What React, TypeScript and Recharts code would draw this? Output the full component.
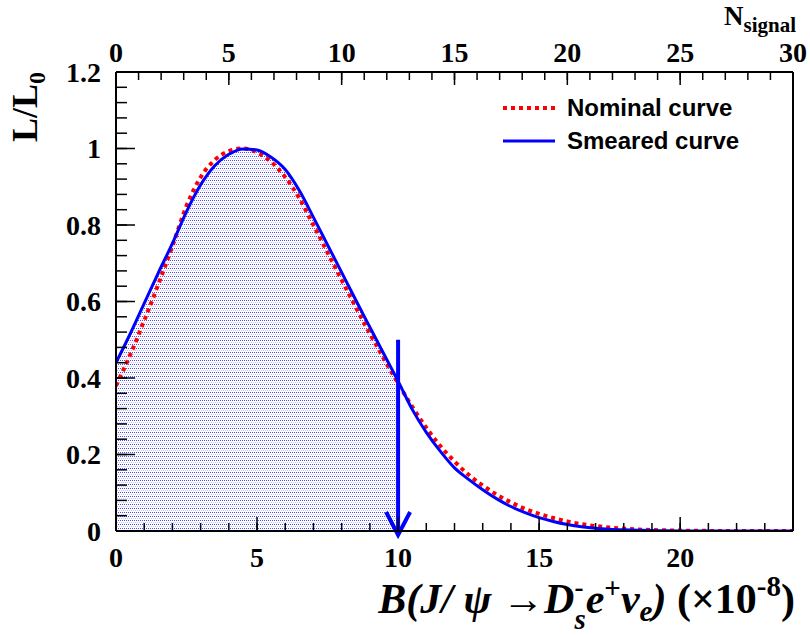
import {
  ComposedChart,
  Line,
  Area,
  XAxis,
  YAxis,
  ReferenceLine,
  Legend,
} from 'recharts';

// branching fraction grid, in units of 1e-8
const bGrid = [
  0, 0.5, 1, 1.5, 2, 2.5, 3, 3.5, 4, 4.5, 5, 5.5, 6, 6.5, 7, 7.5, 8, 8.5, 9, 9.5,
  10, 10.5, 11, 11.5, 12, 12.5, 13, 13.5, 14, 14.5, 15, 15.5, 16, 16.5, 17, 17.5,
  18, 18.5, 19, 19.5, 20, 20.5, 21, 21.5, 22, 22.5, 23, 23.5, 24,
];

const nominalCurve = [
  0.38, 0.46, 0.55, 0.645, 0.745, 0.85, 0.925, 0.97, 0.993, 1.0, 0.99, 0.965,
  0.925, 0.87, 0.8, 0.728, 0.656, 0.585, 0.516, 0.45, 0.386, 0.325, 0.27, 0.222,
  0.182, 0.147, 0.119, 0.095, 0.075, 0.058, 0.045, 0.034, 0.025, 0.018, 0.013,
  0.009, 0.006, 0.004, 0.0027, 0.0017, 0.001, 0.0006, 0.0003, 0.0001, 0, 0, 0, 0, 0,
];

const smearedCurve = [
  0.44, 0.515, 0.595, 0.675, 0.752, 0.835, 0.905, 0.955, 0.985, 0.999, 0.996,
  0.977, 0.945, 0.89, 0.82, 0.748, 0.676, 0.604, 0.533, 0.462, 0.392, 0.318,
  0.258, 0.208, 0.165, 0.135, 0.108, 0.084, 0.064, 0.048, 0.035, 0.025, 0.017,
  0.011, 0.007, 0.0045, 0.003, 0.002, 0.001, 0.0006, 0.0003, 0.0002, 0.0001, 0,
  0, 0, 0, 0, 0,
];

// top axis: signal yield corresponding to the branching fraction
const signalPerB = 30 / 24;

const upperLimit = 10;
const arrowTop = 0.5;

const bMajorTicks = [0, 5, 10, 15, 20];
const bMinorTicks = [
  0, 1, 2, 3, 4, 5, 6, 7, 8, 9, 10, 11, 12, 13, 14, 15, 16, 17, 18, 19, 20, 21, 22, 23, 24,
];
const nMajorTicks = [0, 5, 10, 15, 20, 25, 30];
const nMinorTicks = [
  0, 1, 2, 3, 4, 5, 6, 7, 8, 9, 10, 11, 12, 13, 14, 15, 16, 17, 18, 19, 20, 21, 22,
  23, 24, 25, 26, 27, 28, 29, 30,
];
const yMajorTicks = [0, 0.2, 0.4, 0.6, 0.8, 1, 1.2];
const yMinorTicks = [
  0, 0.04, 0.08, 0.12, 0.16, 0.2, 0.24, 0.28, 0.32, 0.36, 0.4, 0.44, 0.48, 0.52,
  0.56, 0.6, 0.64, 0.68, 0.72, 0.76, 0.8, 0.84, 0.88, 0.92, 0.96, 1, 1.04, 1.08,
  1.12, 1.16, 1.2,
];

const data = bGrid.map((b, i) => ({
  b,
  n: b * signalPerB,
  nominal: nominalCurve[i],
  smeared: smearedCurve[i],
  band: b <= upperLimit ? smearedCurve[i] : null,
}));

const serif = '"Liberation Serif", "Times New Roman", serif';
const sans = '"Liberation Sans", Arial, sans-serif';
const tickFont = { fontFamily: serif, fontWeight: 700, fontSize: 28, fill: '#000' };
const frame = { stroke: '#000', strokeWidth: 2 };
const tickStroke = { stroke: '#000', strokeWidth: 1.5 };
const noLabel = () => <g />;

const Arrow = (p: any) => {
  const { x1, y1, x2, y2 } = p;
  const tip = y2 + 4;
  return (
    <g>
      <line x1={x1} y1={y1} x2={x2} y2={tip} stroke="#0000ff" strokeWidth={4} />
      <polyline
        points={`${x2 - 12},${tip - 23} ${x2},${tip} ${x2 + 12},${tip - 23}`}
        fill="none"
        stroke="#0000ff"
        strokeWidth={4}
      />
    </g>
  );
};

const renderLegend = (props: any) => {
  const items = (props.payload || []).filter(
    (it: any) => it.type !== 'none' && it.dataKey !== 'band'
  );
  return (
    <svg width={300} height={80}>
      {items.map((it: any, i: number) => {
        const dashed = it.payload?.strokeDasharray;
        const cy = 14 + i * 33;
        return (
          <g key={it.value}>
            <line
              x1={3}
              x2={55}
              y1={cy}
              y2={cy}
              stroke={it.color}
              strokeWidth={dashed ? 4 : 3}
              strokeDasharray={dashed}
            />
            <text
              x={67}
              y={cy + 8}
              fontFamily={sans}
              fontWeight={700}
              fontSize={24}
              fill="#000"
            >
              {it.value}
            </text>
          </g>
        );
      })}
    </svg>
  );
};

export default function App() {
  return (
    <div style={{ position: 'absolute', left: 0, top: 0, width: 810, height: 635, background: '#fff' }}>
      <ComposedChart
        width={810}
        height={635}
        data={data}
        margin={{ top: 42, right: 16, bottom: 0, left: 0 }}
      >
        <defs>
          <pattern id="dots" width={4} height={4} patternUnits="userSpaceOnUse">
            <rect x={0} y={0} width={1} height={1} fill="#2a2aff" opacity={0.85} />
            <rect x={2} y={0} width={1} height={1} fill="#2a2aff" opacity={0.85} />
            <rect x={1} y={2} width={1} height={1} fill="#8a8aff" opacity={0.5} />
            <rect x={3} y={2} width={1} height={1} fill="#8a8aff" opacity={0.5} />
          </pattern>
        </defs>

        {/* labelled axes */}
        <XAxis
          xAxisId="b"
          dataKey="b"
          type="number"
          domain={[0, 24]}
          allowDataOverflow
          ticks={bMajorTicks}
          interval={0}
          height={104}
          tickLine={false}
          tickSize={0}
          tickMargin={16}
          axisLine={frame}
          tick={tickFont}
        />
        <XAxis
          xAxisId="n"
          dataKey="n"
          orientation="top"
          type="number"
          domain={[0, 30]}
          allowDataOverflow
          ticks={nMajorTicks}
          interval={0}
          height={30}
          tickLine={false}
          tickSize={0}
          tickMargin={10}
          axisLine={frame}
          tick={tickFont}
        />
        <YAxis
          yAxisId="y"
          type="number"
          domain={[0, 1.2]}
          allowDataOverflow
          ticks={yMajorTicks}
          interval={0}
          width={116}
          tickLine={false}
          tickSize={0}
          tickMargin={15}
          axisLine={frame}
          tick={tickFont}
        />
        <YAxis
          yAxisId="r"
          dataKey="smeared"
          orientation="right"
          type="number"
          domain={[0, 1.2]}
          allowDataOverflow
          ticks={yMajorTicks}
          width={1}
          tick={noLabel}
          tickLine={false}
          axisLine={frame}
        />

        {/* inward tick marks */}
        <XAxis xAxisId="bMaj" dataKey="b" type="number" domain={[0, 24]} allowDataOverflow ticks={bMajorTicks}
          interval={0} mirror height={1} tick={noLabel} tickSize={14} tickLine={tickStroke} axisLine={false} />
        <XAxis xAxisId="bMin" dataKey="b" type="number" domain={[0, 24]} allowDataOverflow ticks={bMinorTicks}
          interval={0} mirror height={1} tick={noLabel} tickSize={7} tickLine={tickStroke} axisLine={false} />
        <XAxis xAxisId="nMaj" dataKey="n" orientation="top" type="number" domain={[0, 30]} allowDataOverflow
          ticks={nMajorTicks} interval={0} mirror height={1} tick={noLabel} tickSize={13} tickLine={tickStroke}
          axisLine={false} />
        <XAxis xAxisId="nMin" dataKey="n" orientation="top" type="number" domain={[0, 30]} allowDataOverflow
          ticks={nMinorTicks} interval={0} mirror height={1} tick={noLabel} tickSize={7} tickLine={tickStroke}
          axisLine={false} />
        <YAxis yAxisId="yMaj" dataKey="smeared" type="number" domain={[0, 1.2]} allowDataOverflow ticks={yMajorTicks}
          interval={0} mirror width={1} tick={noLabel} tickSize={19} tickLine={tickStroke} axisLine={false} />
        <YAxis yAxisId="yMin" dataKey="smeared" type="number" domain={[0, 1.2]} allowDataOverflow ticks={yMinorTicks}
          interval={0} mirror width={1} tick={noLabel} tickSize={10} tickLine={tickStroke} axisLine={false} />

        <Area
          xAxisId="b"
          yAxisId="y"
          dataKey="band"
          type="monotone"
          stroke="none"
          fill="url(#dots)"
          fillOpacity={1}
          baseValue={0}
          legendType="none"
          isAnimationActive={false}
        />
        <ReferenceLine xAxisId="b" yAxisId="y" y={0} stroke="#ff0000" strokeWidth={2} />
        <ReferenceLine xAxisId="b" yAxisId="y" x={24} stroke="#ff0000" strokeWidth={2} />
        <Line
          xAxisId="b"
          yAxisId="y"
          dataKey="nominal"
          name="Nominal curve"
          type="monotone"
          stroke="#ff0000"
          strokeWidth={4}
          strokeDasharray="4 4"
          dot={false}
          isAnimationActive={false}
        />
        <Line
          xAxisId="b"
          yAxisId="y"
          dataKey="smeared"
          name="Smeared curve"
          type="monotone"
          stroke="#0000ff"
          strokeWidth={3}
          dot={false}
          isAnimationActive={false}
        />
        <ReferenceLine
          xAxisId="b"
          yAxisId="y"
          segment={[
            { x: upperLimit, y: arrowTop },
            { x: upperLimit, y: 0 },
          ]}
          ifOverflow="visible"
          shape={Arrow}
        />
        <Legend
          layout="vertical"
          align="center"
          verticalAlign="middle"
          content={renderLegend}
          wrapperStyle={{ position: 'absolute', left: 500, top: 94, width: 300, height: 80 }}
        />
      </ComposedChart>

      <svg
        width={810}
        height={635}
        style={{ position: 'absolute', left: 0, top: 0, pointerEvents: 'none' }}
      >
        <text x={796} y={25} textAnchor="end" fontFamily={serif} fontWeight={700} fontSize={27}>
          N<tspan fontSize={21} dy={7}>signal</tspan>
        </text>
        <text
          x={37}
          y={72}
          transform="rotate(-90 37 72)"
          textAnchor="end"
          fontFamily={serif}
          fontWeight={700}
          fontSize={36}
        >
          L/L<tspan fontSize={24} dy={8}>0</tspan>
        </text>
        <text
          x={795}
          y={613}
          textAnchor="end"
          fontFamily={serif}
          fontWeight={700}
          fontStyle="italic"
          fontSize={42}
        >
          B(J/ ψ →D
          <tspan fontSize={27} fontStyle="normal" dy={-17}>-</tspan>
          <tspan fontSize={29} dx={-9} dy={33}>s</tspan>
          <tspan dy={-16}>e</tspan>
          <tspan fontSize={29} fontStyle="normal" dy={-15}>+</tspan>
          <tspan dy={15}>ν</tspan>
          <tspan fontSize={29} dy={8}>e</tspan>
          <tspan dy={-8}>)</tspan>
          <tspan fontStyle="normal"> (×10</tspan>
          <tspan fontStyle="normal" fontSize={29} dy={-17}>-8</tspan>
          <tspan fontStyle="normal" dy={17}>)</tspan>
        </text>
      </svg>
    </div>
  );
}
